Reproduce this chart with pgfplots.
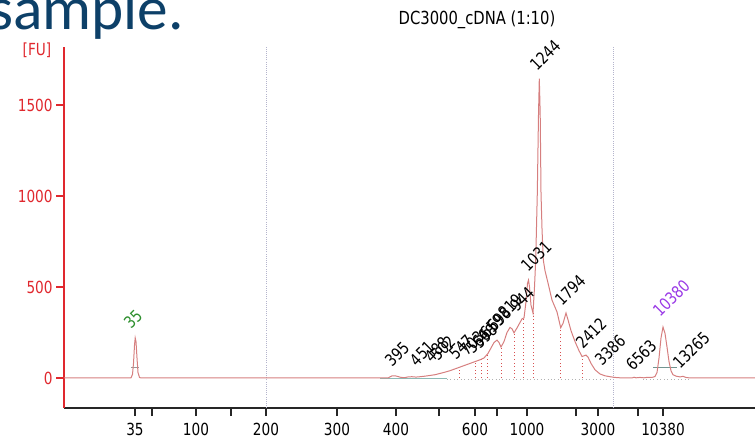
\documentclass[border=0pt]{standalone}
\usepackage{fontspec}
\usepackage{pgfplots}
\pgfplotsset{compat=1.18}
\setmainfont{DejaVu Sans}[FakeStretch=0.82]
\newfontfamily\slidefont{Carlito}
\definecolor{fured}{HTML}{E0282E}
\definecolor{trace}{HTML}{D67F7F}
\definecolor{drop}{HTML}{D85050}
\definecolor{gridl}{HTML}{B4B4CC}
\definecolor{teal}{HTML}{8DBAB5}
\definecolor{ladgreen}{HTML}{2E8F2E}
\definecolor{markpurple}{HTML}{9A3AE6}
\definecolor{slideblue}{HTML}{0D4068}
\newcommand{\lab}{\fontsize{12.5}{14}\selectfont}

\begin{document}
\begin{tikzpicture}
\path[use as bounding box] (0,0) rectangle (566.25pt,-329.25pt);
\clip (0,0) rectangle (566.25pt,-329.25pt);
\node[anchor=base east, inner sep=0, text=slideblue, font=\slidefont\fontsize{46}{50}\selectfont] at (138pt,-21.75pt) {sample.};
\node[font=\fontsize{13.5}{15}\selectfont] at (357.75pt,-15pt) {DC3000\_cDNA (1:10)};
\node[font=\lab, text=fured] at (27.75pt,-37.5pt) {[FU]};

\begin{axis}[
  at={(48pt,-306pt)}, anchor=south west,
  scale only axis, width=518.25pt, height=270.75pt,
  xmin=64, xmax=755, ymin=-165, ymax=1819,
  axis x line*=bottom, axis y line*=left,
  axis line style={-},
  x axis line style={black!85, line width=0.9pt},
  y axis line style={fured, line width=0.9pt},
  tick align=outside, major tick length=6pt,
  xtick style={black!85, line width=0.9pt},
  ytick style={fured, line width=0.9pt},
  xtick={135,196,266,337,396,475,527,598,663},
  xticklabels={35,100,200,300,400,600,1000,3000,10380},
  extra x ticks={152,231,439,497,576,638},
  extra x tick labels={},
  ytick={0,500,1000,1500},
  /pgf/number format/assume math mode=true,
  /pgf/number format/set thousands separator={},
  xticklabel style={font=\lab, yshift=-2pt},
  yticklabel style={font=\lab, text=fured, xshift=1pt},
  clip=false,
]
% grid lines
\addplot[gridl, densely dotted, line width=0.6pt] coordinates {(266,-165) (266,1819)};
\addplot[gridl, densely dotted, line width=0.6pt] coordinates {(613,-165) (613,1819)};
% integration baselines
\addplot[gray!60, dotted, line width=0.6pt] coordinates {(447,-6) (613,-6)};
\addplot[gray!60, dotted, line width=0.6pt] coordinates {(643,-6) (690,-6)};
\addplot[teal, line width=0.5pt] coordinates {(380,-3) (447,-3)};
\addplot[gray!80, line width=0.6pt] coordinates {(131,60) (139,60)};
\addplot[teal!80!black, line width=0.6pt] coordinates {(653,60) (677,60)};
% drop lines at valleys
\addplot[drop, dotted, line width=0.7pt, ycomb] coordinates {
(459,58) (475,90) (481,102) (487,128) (501,170) (514,248) (523,328) (533,357) (560.7,276) (582,118)};
% electropherogram trace
\addplot[trace, line width=0.75pt] coordinates {
(64,0) (124,0) (131,1) (132.5,20) (133.5,80) (134.5,180) (135.2,220) (136,200) (137,110) (138,30) (139.5,3) (141,0)
(388,0) (390,6) (392,12) (395,12) (398,8) (401,3) (405,2) (408,6) (412,7) (416,5) (420,7) (425,10) (430,14) (435,18)
(440,25) (445,32) (450,40) (455,50) (460,60) (465,70) (470,80) (475,90) (480,100) (484,110) (488,135) (491,165)
(494,195) (497,208) (499,195) (501,170) (504,200) (507,250) (510,278) (512,270) (514,248) (517,275) (520,305)
(522,325) (524,330) (526,420) (527.5,520) (528.5,538) (529.5,500) (531,400) (533,357) (534.5,500) (535.7,648)
(537.3,1016) (538.5,1450) (539.3,1645) (540.2,1450) (541,1016) (542,820) (543.3,648) (545,590) (548,522) (552,428)
(557,363) (560.7,276) (563,300) (566,357) (568,320) (571,260) (575,200) (579,150) (582,118) (584,122) (586,126)
(588,115) (591,80) (595,45) (600,22) (605,12) (610,7) (615,3) (620,1) (625,0) (632,0) (634,4) (636,1) (640,3)
(644,1) (648,4) (652,3) (655,8) (657,30) (659,110) (661,220) (663,280) (665,245) (667,170) (669,90) (671,40)
(673,18) (676,10) (680,6) (683,9) (686,3) (690,0) (755,0)};
% peak labels
\begin{scope}[every node/.style={rotate=45, anchor=base west, inner sep=0, font=\lab}]
\node[text=ladgreen] at (axis cs:131,264) {35};
\node at (axis cs:392,55) {395};
\node at (axis cs:416.7,59) {451};
\node at (axis cs:431.7,81) {488};
\node at (axis cs:438,88) {502};
\node at (axis cs:456,93) {547};
\node at (axis cs:467,115) {703};
\node at (axis cs:473,126) {566};
\node at (axis cs:480,154) {598};
\node at (axis cs:487,209) {659};
\node at (axis cs:494,247) {698};
\node at (axis cs:505,319) {819};
\node at (axis cs:517,357) {944};
\node at (axis cs:528,577) {1031};
\node at (axis cs:537,1681) {1244};
\node at (axis cs:562,390) {1794};
\node at (axis cs:583,154) {2412};
\node at (axis cs:602,60) {3386};
\node at (axis cs:633,33) {6563};
\node[text=markpurple] at (axis cs:660,330) {10380};
\node at (axis cs:680,44) {13265};
\end{scope}
\end{axis}
\end{tikzpicture}
\end{document}
